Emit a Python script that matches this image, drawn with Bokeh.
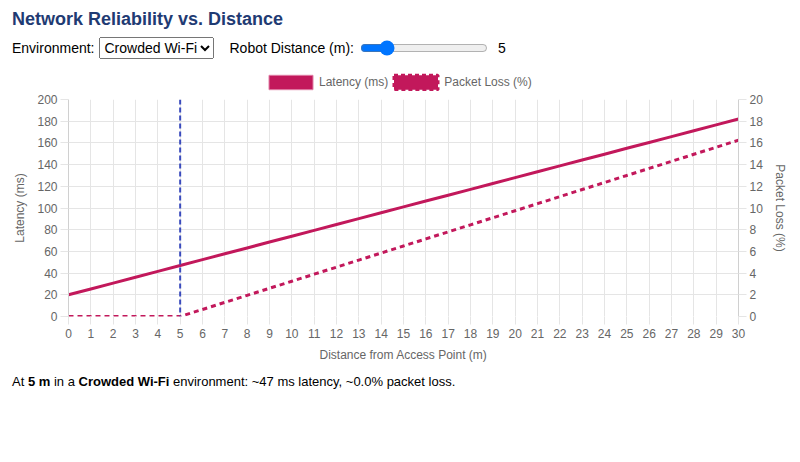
from bokeh.plotting import figure
from bokeh.layouts import column
from bokeh.models import (Div, Range1d, LinearAxis, FixedTicker, Legend,
                          LegendItem, Span)
from bokeh.embed import file_html
from bokeh.resources import INLINE

# data
distance_m = [0, 1, 2, 3, 4, 5, 6, 7, 8, 9, 10, 11, 12, 13, 14, 15,
              16, 17, 18, 19, 20, 21, 22, 23, 24, 25, 26, 27, 28, 29, 30]
latency_ms = [20, 25.4, 30.8, 36.2, 41.6, 47, 52.4, 57.8, 63.2, 68.6, 74,
              79.4, 84.8, 90.2, 95.6, 101, 106.4, 111.8, 117.2, 122.6, 128,
              133.4, 138.8, 144.2, 149.6, 155, 160.4, 165.8, 171.2, 176.6, 182]
packet_loss_pct = [0, 0, 0, 0, 0, 0, 0.65, 1.3, 1.95, 2.6, 3.25, 3.9, 4.55,
                   5.2, 5.85, 6.5, 7.15, 7.8, 8.45, 9.1, 9.75, 10.4, 11.05,
                   11.7, 12.35, 13, 13.65, 14.3, 14.95, 15.6, 16.25]
latency_ticks = [0, 20, 40, 60, 80, 100, 120, 140, 160, 180, 200]
loss_ticks = [0, 2, 4, 6, 8, 10, 12, 14, 16, 18, 20]
environment = "Crowded Wi-Fi"
robot_distance = 5

FONT = "Liberation Sans"
CRIMSON = "#c2185b"
GRID = "#e5e5e5"
TXT = "#666666"
NAN = float("nan")

title = Div(
    text=f"<div style=\"font-family:'{FONT}',Arial;font-weight:bold;font-size:18px;"
         "color:#1f3b73;line-height:22px\">"
         "Network Reliability vs. Distance</div>",
    width=700, height=22, margin=(8, 0, 0, 12))

controls = Div(
    text=f"<div style=\"font-family:'{FONT}',Arial;font-size:14px;color:#000;"
         "display:flex;align-items:center;height:32px\">"
         "<span>Environment:</span>"
         "<select style=\"margin-left:5px;font-size:14px;font-family:inherit;height:22px\">"
         f"<option>{environment}</option></select>"
         "<span style=\"margin-left:15px\">Robot Distance (m):</span>"
         f"<input type=\"range\" min=\"{distance_m[0]}\" max=\"{distance_m[-1]}\" "
         f"value=\"{robot_distance}\" style=\"margin-left:6px;width:128px\">"
         f"<span style=\"margin-left:8px\">{robot_distance}</span></div>",
    width=700, height=32, margin=(2, 0, 0, 12))

# small strip that only holds the legend above the chart
leg = figure(width=782, height=28, x_range=(0, 1), y_range=(0, 1),
             output_backend="svg", toolbar_location=None,
             x_axis_type=None, y_axis_type=None, min_border=0,
             margin=(0, 0, 0, 8))
leg.outline_line_color = None
leg.grid.visible = False

# legend swatches in box style (NaN rows: nothing drawn)
lat_box = leg.quad(left=[NAN], right=[NAN], top=[NAN], bottom=[NAN],
                   fill_color=CRIMSON, line_color="#e07fa6", line_width=1)
loss_box = leg.quad(left=[NAN], right=[NAN], top=[NAN], bottom=[NAN],
                    fill_color=CRIMSON, line_color=CRIMSON, line_width=3,
                    line_dash="4 3")
legend = Legend(items=[LegendItem(label="Latency (ms)", renderers=[lat_box]),
                       LegendItem(label="Packet Loss (%)", renderers=[loss_box])],
                orientation="horizontal", location=(195, 1),
                glyph_width=55, glyph_height=18, label_standoff=1, spacing=0,
                padding=0, margin=0, border_line_color=None,
                background_fill_alpha=0, label_height=18,
                label_text_font=FONT, label_text_font_size="12px",
                label_text_color=TXT)
leg.add_layout(legend)

p = figure(width=782, height=274, x_range=(0, 30), y_range=(0, 200),
           output_backend="svg", toolbar_location=None,
           min_border_left=60, min_border_right=52, min_border_top=7,
           min_border_bottom=50, margin=(0, 0, 0, 8))
p.outline_line_color = None
p.background_fill_color = "white"
p.extra_y_ranges = {"loss": Range1d(0, 20)}

p.xaxis.ticker = FixedTicker(ticks=distance_m)
p.yaxis.ticker = FixedTicker(ticks=latency_ticks)
p.xaxis.axis_label = "Distance from Access Point (m)"
p.yaxis.axis_label = "Latency (ms)"

right = LinearAxis(y_range_name="loss", axis_label="Packet Loss (%)",
                   ticker=FixedTicker(ticks=loss_ticks))
p.add_layout(right, "right")

for ax in [p.xaxis[0], p.yaxis[0], right]:
    ax.axis_line_color = "#d0d0d0"
    ax.major_tick_line_color = GRID
    ax.major_tick_out = 8
    ax.major_tick_in = 0
    ax.minor_tick_line_color = None
    ax.major_label_text_font = FONT
    ax.major_label_text_font_size = "12px"
    ax.major_label_text_color = TXT
    ax.major_label_standoff = 3
    ax.axis_label_text_font = FONT
    ax.axis_label_text_font_size = "12px"
    ax.axis_label_text_font_style = "normal"
    ax.axis_label_text_color = TXT
    ax.axis_label_standoff = 7
p.xaxis.major_label_standoff = 4
p.xaxis.axis_line_color = None

p.xgrid.ticker = FixedTicker(ticks=distance_m)
p.ygrid.ticker = FixedTicker(ticks=latency_ticks)
p.grid.grid_line_color = GRID

p.line(distance_m, latency_ms, line_color=CRIMSON, line_width=3)
p.line(distance_m, packet_loss_pct, y_range_name="loss", line_color=CRIMSON,
       line_width=3, line_dash="5 4")

p.add_layout(Span(location=robot_distance, dimension="height",
                  line_color="#3a4bbd", line_width=2, line_dash="5 3"))

i = distance_m.index(robot_distance)
footer = Div(
    text=f"<div style=\"font-family:'{FONT}',Arial;font-size:13px;color:#000;"
         "line-height:16px\">"
         f"At <b>{robot_distance} m</b> in a <b>{environment}</b> environment: "
         f"~{round(latency_ms[i])} ms latency, ~{packet_loss_pct[i]:.1f}% packet loss.</div>",
    width=700, height=20, margin=(8, 0, 0, 12))

layout = column(title, controls, leg, p, footer, spacing=0)

open("out.html", "w").write(file_html(layout, INLINE))
